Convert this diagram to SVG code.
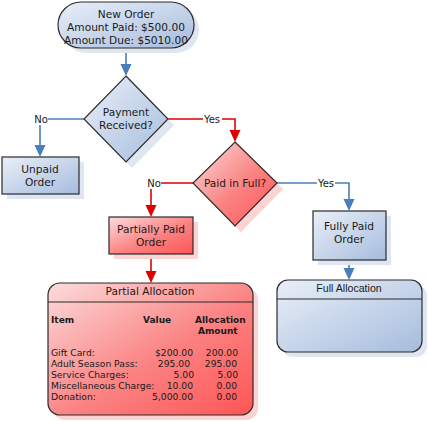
<svg xmlns="http://www.w3.org/2000/svg" width="428" height="422" viewBox="0 0 428 422">
<style>
text{font-family:"DejaVu Sans","Verdana",sans-serif;fill:#1a1a1a}
.n{font-size:10.6px;text-anchor:middle}
.l{font-size:10px;text-anchor:middle}
.t{font-size:9.2px}
.b{font-size:9px;font-weight:bold}
.r{text-anchor:end}
.bs{fill:#dfe6f1}
.rs{fill:#fcd2d2}
.bn{fill:url(#gb);stroke:#2b2b2b;stroke-width:1.2}
.rn{fill:url(#gr);stroke:#2b2b2b;stroke-width:1.2}
.cb{fill:none;stroke:#4a7ebb;stroke-width:1.6}
.cr{fill:none;stroke:#e00000;stroke-width:1.6}
.hb{fill:#4a7ebb}
.hr{fill:#e00000}
</style>
<defs>
<linearGradient id="gb" x1="0" y1="0" x2="1" y2="1">
<stop offset="0" stop-color="#e9eff8"/><stop offset="1" stop-color="#a6bcdd"/>
</linearGradient>
<linearGradient id="gr" x1="0" y1="0" x2="1" y2="1">
<stop offset="0" stop-color="#fbdcdc"/><stop offset="0.55" stop-color="#fb8282"/><stop offset="1" stop-color="#ff5555"/>
</linearGradient>
</defs>
<g id="connectors">
<path class="cb" d="M126,49 V66"/>
<path class="hb" d="M120.5,64 L131.5,64 L126,76 z"/>
<path class="cb" d="M84,119 H48"/>
<path class="cb" d="M40,125 V147"/>
<path class="hb" d="M34.5,145 L45.5,145 L40,157 z"/>
<path class="cr" d="M168,119 H203 M222,119 H235 V132"/>
<path class="hr" d="M229.5,130 L240.5,130 L235,142 z"/>
<path class="cr" d="M193,183 H161 M151,189 V207"/>
<path class="hr" d="M145.5,205 L156.5,205 L151,217 z"/>
<path class="cb" d="M277,183 H317 M335,183 H349 V201"/>
<path class="hb" d="M343.5,199 L354.5,199 L349,211 z"/>
<path class="cr" d="M151,254 V273"/>
<path class="hr" d="M145.5,271 L156.5,271 L151,283 z"/>
<path class="cb" d="M349,260 V270"/>
<path class="hb" d="M343.5,268 L354.5,268 L349,280 z"/>
<text class="l" x="41" y="123">No</text>
<text class="l" x="212" y="123">Yes</text>
<text class="l" x="154" y="187">No</text>
<text class="l" x="326" y="187">Yes</text>
</g>
<g id="new-order">
<rect class="bs" x="63" y="7" width="136" height="46" rx="23"/>
<rect class="bn" x="58" y="2" width="136" height="46" rx="23"/>
<text class="n" x="126" y="18">New Order</text>
<text class="n" x="126" y="31">Amount Paid: $500.00</text>
<text class="n" x="126" y="44">Amount Due: $5010.00</text>
</g>
<g id="payment-received">
<path class="bs" d="M132,82 L174,125 L132,168 L90,125 z"/>
<path class="bn" d="M126,76 L168,119 L126,162 L84,119 z"/>
<text class="n" x="126" y="116">Payment</text>
<text class="n" x="126" y="129">Received?</text>
</g>
<g id="unpaid-order">
<rect class="bs" x="7" y="162" width="77" height="37"/>
<rect class="bn" x="2" y="157" width="77" height="37"/>
<text class="n" x="40" y="173">Unpaid</text>
<text class="n" x="40" y="186">Order</text>
</g>
<g id="paid-in-full">
<path class="rs" d="M241,148 L283,189 L241,232 L199,189 z"/>
<path class="rn" d="M235,142 L277,183 L235,226 L193,183 z"/>
<text class="n" x="235" y="187">Paid in Full?</text>
</g>
<g id="partially-paid-order">
<rect class="rs" x="114" y="222" width="84" height="37"/>
<rect class="rn" x="109" y="217" width="84" height="37"/>
<text class="n" x="151" y="233">Partially Paid</text>
<text class="n" x="151" y="246">Order</text>
</g>
<g id="fully-paid-order">
<rect class="bs" x="318" y="216" width="73" height="49"/>
<rect class="bn" x="313" y="211" width="73" height="49"/>
<text class="n" x="349" y="230">Fully Paid</text>
<text class="n" x="349" y="243">Order</text>
</g>
<g id="full-allocation">
<rect class="bs" x="282" y="285" width="145" height="72" rx="11"/>
<rect class="bn" x="277" y="280" width="145" height="72" rx="11"/>
<line x1="277" y1="299" x2="422" y2="299" stroke="#2b2b2b" stroke-width="1.2"/>
<text class="n" x="349" y="292" style="font-family:'Liberation Sans',Arial,sans-serif">Full Allocation</text>
</g>
<g id="partial-allocation">
<rect class="rs" x="53" y="288" width="205" height="132" rx="12"/>
<rect class="rn" x="48" y="283" width="205" height="132" rx="12"/>
<line x1="48" y1="302" x2="253" y2="302" stroke="#2b2b2b" stroke-width="1.2"/>
<text class="n" x="150" y="295">Partial Allocation</text>
<text class="b" x="51" y="323">Item</text>
<text class="b" x="143" y="323">Value</text>
<text class="b" x="195" y="323">Allocation</text>
<text class="b" x="198" y="334">Amount</text>
<text class="t" x="51" y="356">Gift Card:</text>
<text class="t" x="51" y="367">Adult Season Pass:</text>
<text class="t" x="51" y="378">Service Charges:</text>
<text class="t" x="51" y="389">Miscellaneous Charge:</text>
<text class="t" x="51" y="400">Donation:</text>
<text class="t r" x="193" y="356">$200.00</text>
<text class="t r" x="190" y="367">295.00</text>
<text class="t r" x="194" y="378">5.00</text>
<text class="t r" x="193" y="389">10.00</text>
<text class="t r" x="193" y="400">5,000.00</text>
<text class="t r" x="238" y="356">200.00</text>
<text class="t r" x="237" y="367">295.00</text>
<text class="t r" x="238" y="378">5.00</text>
<text class="t r" x="237" y="389">0.00</text>
<text class="t r" x="237" y="400">0.00</text>
</g>
</svg>
